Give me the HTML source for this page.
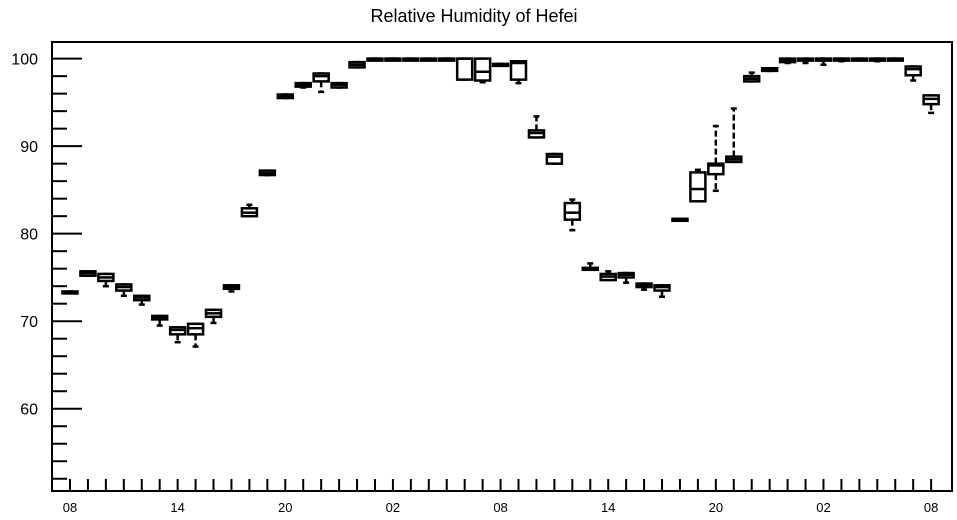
<!DOCTYPE html>
<html><head><meta charset="utf-8"><style>
body{margin:0;background:#fff;}
svg{display:block;font-family:"Liberation Sans",Arial,sans-serif;}
</style></head><body>
<svg id="chart" width="957" height="520">
<text x="474" y="22" text-anchor="middle" font-size="18">Relative Humidity of Hefei</text>
<g id="axes"></g><g id="boxes"></g>
<rect x="52" y="42" width="900" height="449" fill="none" stroke="#000" stroke-width="2"/>
</svg>
<script>
const hours = ["08","09","10","11","12","13","14","15","16","17","18","19","20","21","22","23","00","01","02","03","04","05","06","07","08","09","10","11","12","13","14","15","16","17","18","19","20","21","22","23","00","01","02","03","04","05","06","07","08"];
const medians = [73.3,75.5,75.0,73.9,72.7,70.4,69.0,69.2,70.9,73.9,82.4,86.9,95.7,97.0,98.0,97.0,99.3,100,100,100,100,100,100,98.5,99.3,99.5,91.5,88.8,82.4,76.0,75.1,75.3,74.1,73.9,81.6,85.1,87.8,88.5,97.7,98.75,99.8,99.9,100,100,100,100,100,98.8,95.4];
const q1 = [73.2,75.2,74.6,73.5,72.4,70.2,68.5,68.5,70.5,73.7,82.0,86.7,95.5,96.8,97.4,96.7,99.0,99.9,99.9,99.9,99.9,99.9,97.6,97.5,99.2,97.6,91.0,88.0,81.6,75.9,74.7,75.0,73.9,73.5,81.5,83.7,86.8,88.2,97.4,98.6,99.6,99.8,99.9,99.9,99.9,99.9,99.9,98.1,94.8];
const q3 = [73.4,75.7,75.4,74.2,72.9,70.6,69.3,69.7,71.3,74.1,82.9,87.2,95.9,97.2,98.3,97.2,99.6,100,100,100,100,100,100,100,99.4,99.7,91.8,89.1,83.5,76.1,75.4,75.5,74.3,74.1,81.7,87.0,88.0,88.8,98.0,98.9,100,100,100,100,100,100,100,99.1,95.8];
const mins = [73.2,75.2,74.0,72.9,71.9,69.5,67.6,67.1,69.8,73.4,82.0,86.7,95.5,96.7,96.2,96.7,99.0,99.9,99.9,99.9,99.9,99.9,97.6,97.3,99.2,97.2,91.0,88.0,80.4,75.9,74.7,74.4,73.6,72.8,81.5,84.0,84.9,88.2,97.4,98.6,99.5,99.5,99.3,99.7,99.9,99.7,99.9,97.5,93.8];
const maxs = [73.4,75.7,75.4,74.2,72.9,70.6,69.3,69.7,71.3,74.1,83.3,87.2,95.9,97.2,98.3,97.2,99.6,100,100,100,100,100,100,100,99.4,99.7,93.4,89.1,83.9,76.6,75.7,75.5,74.3,74.1,81.7,87.3,92.3,94.3,98.4,98.9,100,100,100,100,100,100,100,99.1,95.8];
const yTicks = [60,70,80,90,100];
const xLabels = ["08","14","20","02","08","14","20","02","08"];

const NS="http://www.w3.org/2000/svg";
const L=52,R=952,T=42,B=491;
const yMin=50.6,yMax=101.9;
function ys(v){return B-(v-yMin)/(yMax-yMin)*(B-T);}
function xs(i){return 70+i*17.94;}
function mk(tag,attrs,parent){const e=document.createElementNS(NS,tag);for(const k in attrs)e.setAttribute(k,attrs[k]);parent.appendChild(e);return e;}
const ax=document.getElementById('axes'),bx=document.getElementById('boxes');
for(let v=52;v<=101;v+=2){
  const major=v%10===0;
  const t=mk('line',{x1:L,x2:L+(major?30:15),y1:ys(v),y2:ys(v),stroke:'#000','stroke-width':2},ax);
  
  
}
yTicks.forEach(v=>{
  const t=mk('text',{x:38,y:ys(v)+6,'text-anchor':'end','font-size':16},ax);
  t.textContent=v;
  
  
});
for(let i=0;i<hours.length;i++){
  const t=mk('line',{x1:xs(i),x2:xs(i),y1:B,y2:B-12,stroke:'#000','stroke-width':2},ax);
  
  
}
xLabels.forEach((s,k)=>{
  const t=mk('text',{x:xs(k*6),y:512,'text-anchor':'middle','font-size':13},ax);
  t.textContent=s;
  
  
});
const hw=7.5;
medians.forEach((m,i)=>{
  const g=mk('g',{stroke:'#000','stroke-width':2.5,fill:'none'},bx);
  
  
  const x=xs(i);
  mk('line',{x1:x,x2:x,y1:ys(q3[i]),y2:ys(maxs[i]),'stroke-dasharray':'6,3'},g);
  mk('line',{x1:x,x2:x,y1:ys(q1[i]),y2:ys(mins[i]),'stroke-dasharray':'6,3'},g);
  mk('line',{x1:x-3,x2:x+3,y1:ys(maxs[i]),y2:ys(maxs[i])},g);
  mk('line',{x1:x-3,x2:x+3,y1:ys(mins[i]),y2:ys(mins[i])},g);
  const y3=ys(q3[i]),y1=ys(q1[i]);
  mk('rect',{x:x-hw,y:y3,width:2*hw,height:Math.max(y1-y3,2),fill:'#fff'},g);
  mk('line',{x1:x-hw,x2:x+hw,y1:ys(m),y2:ys(m)},g);
});
</script>
</body></html>
